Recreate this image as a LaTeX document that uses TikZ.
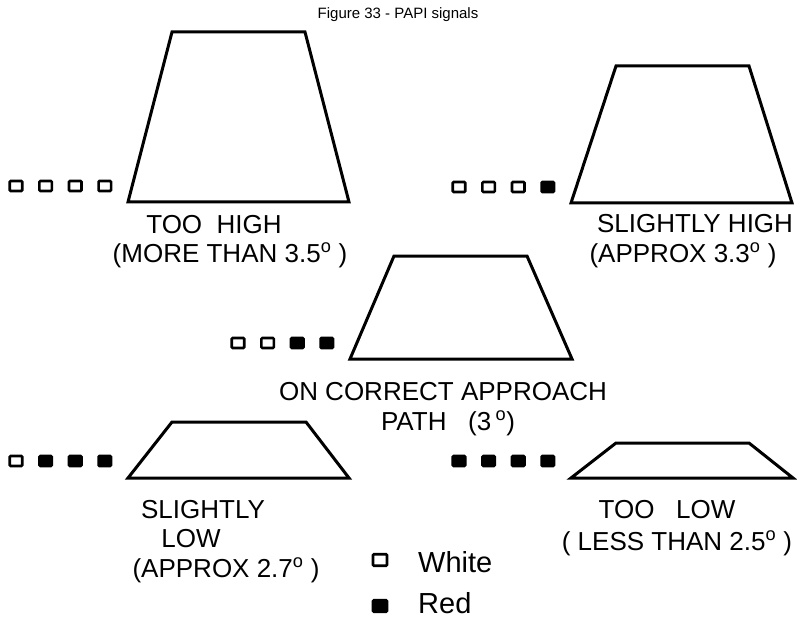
\documentclass[tikz,border=0pt]{standalone}
\usepackage{fontspec}
\setmainfont{Liberation Sans}
\usetikzlibrary{positioning}
\tikzset{
    % Lamp boxes
    lamp/.style={
        rectangle,
        draw=black,
        line width=2.6pt,
        rounded corners=1pt,
        fill=white,
        minimum width=12.5pt,
        minimum height=10pt,
        inner sep=0pt
    },
    lamp red/.style={
        lamp,
        fill=black
    },
    legend lamp/.style={
        lamp,
        minimum width=14pt,
        minimum height=11.5pt
    },
    legend red/.style={
        legend lamp,
        fill=black
    },
    % Runway outline
    runway/.style={
        draw=black,
        line width=3pt,
        line join=miter
    },
    caption/.style={
        font=\fontsize{26}{30}\selectfont,
        inner sep=0pt,
        anchor=base
    },
    legend text/.style={
        caption,
        font=\fontsize{29}{34}\selectfont,
        anchor=base west
    },
    title/.style={
        font=\fontsize{15}{18}\selectfont,
        inner sep=0pt,
        anchor=base
    }
}
\begin{document}
\begin{tikzpicture}[x=1pt, y=-1pt, node distance=14.5pt]
        \useasboundingbox (0,0) rectangle (797,620);

        % Title
        \node[title] (title) at (398,19) {Figure 33 - PAPI signals};

        % Too high
        \draw[runway] (128,202) -- (172,32) -- (305,32) -- (349,202) -- cycle;
        \node[lamp] (th1) at (16,186) {};
        \node[lamp, right=of th1] (th2) {};
        \node[lamp, right=of th2] (th3) {};
        \node[lamp, right=of th3] (th4) {};
        \node[caption] (thA) at (214,234) {TOO\ \ HIGH};
        \node[caption] (thB) at (230,262) {(MORE THAN 3.5\textsuperscript{o} )};

        % Slightly high
        \draw[runway] (571,203) -- (616,66) -- (749,66) -- (792,203) -- cycle;
        \node[lamp] (sh1) at (459,187) {};
        \node[lamp, right=of sh1] (sh2) {};
        \node[lamp, right=of sh2] (sh3) {};
        \node[lamp red, right=of sh3] (sh4) {};
        \node[caption] (shA) at (695,233) {SLIGHTLY HIGH};
        \node[caption] (shB) at (683,262) {(APPROX 3.3\textsuperscript{o} )};

        % On correct approach path
        \draw[runway] (350,359) -- (394,256) -- (527,256) -- (572,359) -- cycle;
        \node[lamp] (op1) at (238,343) {};
        \node[lamp, right=of op1] (op2) {};
        \node[lamp red, right=of op2] (op3) {};
        \node[lamp red, right=of op3] (op4) {};
        \node[caption] (opA) at (443,400) {ON CORRECT APPROACH};
        \node[caption] (opB) at (448,430) {PATH\ \ \ (3\,\textsuperscript{o})};

        % Slightly low
        \draw[runway] (128,478) -- (172,422) -- (306,422) -- (349,478) -- cycle;
        \node[lamp] (sl1) at (16,461) {};
        \node[lamp red, right=of sl1] (sl2) {};
        \node[lamp red, right=of sl2] (sl3) {};
        \node[lamp red, right=of sl3] (sl4) {};
        \node[caption] (slA) at (203,518) {SLIGHTLY};
        \node[caption] (slB) at (191,547) {LOW};
        \node[caption] (slC) at (226,577) {(APPROX 2.7\textsuperscript{o} )};

        % Too low
        \draw[runway] (571,478) -- (616,443) -- (749,443) -- (793,478) -- cycle;
        \node[lamp red] (tl1) at (459,461) {};
        \node[lamp red, right=of tl1] (tl2) {};
        \node[lamp red, right=of tl2] (tl3) {};
        \node[lamp red, right=of tl3] (tl4) {};
        \node[caption] (tlA) at (667,518) {TOO\ \ \ LOW};
        \node[caption] (tlB) at (677,550) {( LESS THAN 2.5\textsuperscript{o} )};

        % Legend
        \node[legend lamp] (keyW) at (380,560) {};
        \node[legend text] (keyWt) at (418,572) {White};
        \node[legend red] (keyR) at (380,606) {};
        \node[legend text] (keyRt) at (418,613) {Red};
    \end{tikzpicture}
\end{document}
